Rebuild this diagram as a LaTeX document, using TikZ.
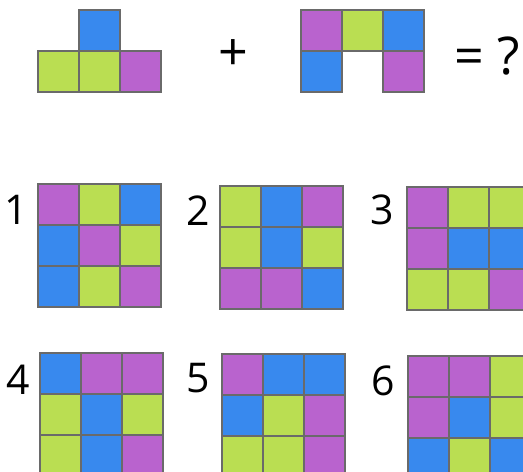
\documentclass[tikz,border=0pt]{standalone}
\usepackage{fontspec}
\setmainfont{Open Sans}
\usepackage{xcolor}
\definecolor{cpurple}{HTML}{B963CE}
\definecolor{cgreen}{HTML}{BADE52}
\definecolor{cblue}{HTML}{3889EE}
\definecolor{cedge}{HTML}{6A6A6A}
\tikzset{
  cell/.style={draw=cedge,line width=1.2},
  numlab/.style={inner sep=0,font=\fontsize{41}{41}\selectfont},
  toplab/.style={inner sep=0,font=\fontsize{52}{52}\selectfont}
}
% 3x3 answer grid: top left corner, then the nine colours row by row
\newcommand{\tilegrid}[3]{%
  \foreach \clr [count=\k from 0] in {#3}{%
    \pgfmathtruncatemacro\cx{mod(\k,3)}%
    \pgfmathtruncatemacro\cy{\k/3}%
    \draw[cell,fill=\clr] (#1+41*\cx,#2+41*\cy) rectangle ++(41,41);}}
\begin{document}
\begin{tikzpicture}[x=1pt,y=-1pt]
			\useasboundingbox (0,0) rectangle (523,472);
			\clip (0,0) rectangle (523,472);
			% first piece
			\draw[cell,fill=cblue] (79,10) rectangle ++(41,41);
			\draw[cell,fill=cgreen] (38,51) rectangle ++(41,41);
			\draw[cell,fill=cgreen] (79,51) rectangle ++(41,41);
			\draw[cell,fill=cpurple] (120,51) rectangle ++(41,41);
			\node[toplab] (plus) at (233,55) {+};
			% second piece
			\draw[cell,fill=cpurple] (301,10) rectangle ++(41,41);
			\draw[cell,fill=cgreen] (342,10) rectangle ++(41,41);
			\draw[cell,fill=cblue] (383,10) rectangle ++(41,41);
			\draw[cell,fill=cblue] (301,51) rectangle ++(41,41);
			\draw[cell,fill=cpurple] (383,51) rectangle ++(41,41);
			\node[toplab] (result) at (487,56) {= ?};
			% answers
			\node[numlab] (lab1) at (16,210) {1};
			\tilegrid{38}{184}{cpurple,cgreen,cblue,cblue,cpurple,cgreen,cblue,cgreen,cpurple}
			\node[numlab] (lab2) at (198,211) {2};
			\tilegrid{220}{186}{cgreen,cblue,cpurple,cgreen,cblue,cgreen,cpurple,cpurple,cblue}
			\node[numlab] (lab3) at (382,210) {3};
			\tilegrid{407}{187}{cpurple,cgreen,cgreen,cpurple,cblue,cblue,cgreen,cgreen,cpurple}
			\node[numlab] (lab4) at (18,380) {4};
			\tilegrid{40}{353}{cblue,cpurple,cpurple,cgreen,cblue,cgreen,cgreen,cblue,cpurple}
			\node[numlab] (lab5) at (198,378) {5};
			\tilegrid{222}{354}{cpurple,cblue,cblue,cblue,cgreen,cpurple,cgreen,cgreen,cpurple}
			\node[numlab] (lab6) at (383,381) {6};
			\tilegrid{408}{356}{cpurple,cpurple,cgreen,cpurple,cblue,cgreen,cblue,cgreen,cblue}
		\end{tikzpicture}
\end{document}
